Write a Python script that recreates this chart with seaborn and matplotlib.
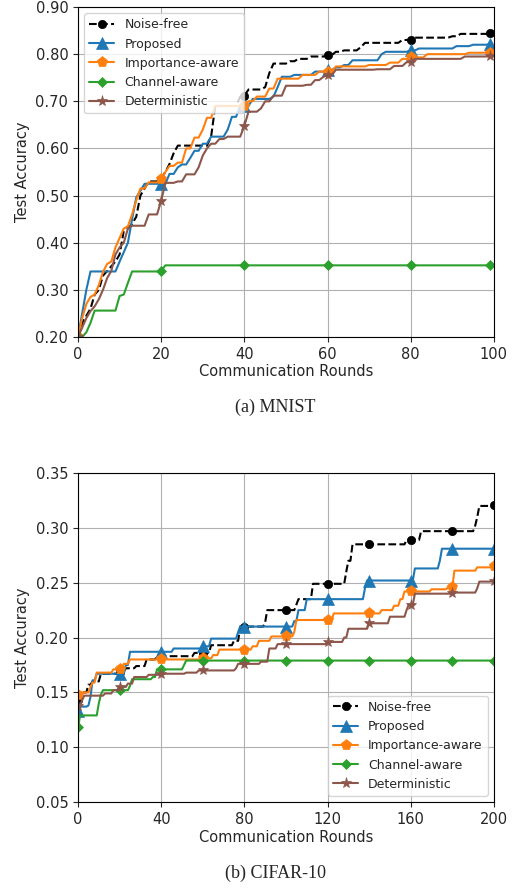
import numpy as np
import pandas as pd
import matplotlib
matplotlib.use('Agg')
import matplotlib.pyplot as plt
import seaborn as sns

# running best test accuracy, stored as (round, accuracy) change points
labels = ['Noise-free', 'Proposed', 'Importance-aware', 'Channel-aware', 'Deterministic']

mnist_noise_free = [(0, 0.20), (1, 0.23), (2, 0.245), (3, 0.26), (4, 0.29), (5, 0.30), (6, 0.33),
                    (7, 0.34), (8, 0.35), (9, 0.36), (10, 0.375), (11, 0.425), (12, 0.43), (13, 0.44),
                    (14, 0.455), (15, 0.50), (16, 0.515), (17, 0.53), (20, 0.536), (21, 0.55),
                    (22, 0.567), (23, 0.59), (24, 0.606), (32, 0.625), (33, 0.69), (39, 0.71),
                    (40, 0.712), (41, 0.725), (45, 0.73), (46, 0.76), (47, 0.78), (51, 0.785),
                    (53, 0.79), (56, 0.795), (60, 0.798), (62, 0.805), (64, 0.808), (68, 0.815),
                    (69, 0.824), (78, 0.83), (80, 0.831), (81, 0.835), (90, 0.838), (92, 0.843),
                    (99, 0.844)]
mnist_proposed = [(0, 0.20), (1, 0.25), (2, 0.30), (3, 0.339), (10, 0.36), (11, 0.38), (12, 0.40),
                  (13, 0.45), (14, 0.496), (15, 0.51), (16, 0.525), (22, 0.546), (24, 0.56),
                  (25, 0.566), (27, 0.58), (28, 0.595), (30, 0.61), (32, 0.625), (36, 0.64),
                  (37, 0.667), (39, 0.69), (42, 0.705), (47, 0.71), (48, 0.73), (49, 0.752),
                  (52, 0.756), (57, 0.763), (60, 0.766), (62, 0.772), (64, 0.777), (66, 0.787),
                  (73, 0.80), (74, 0.805), (80, 0.808), (82, 0.812), (91, 0.817), (95, 0.82),
                  (99, 0.821)]
mnist_importance = [(0, 0.20), (1, 0.24), (2, 0.27), (3, 0.285), (4, 0.29), (5, 0.31), (6, 0.338),
                    (7, 0.355), (8, 0.36), (9, 0.39), (10, 0.41), (11, 0.43), (12, 0.435),
                    (13, 0.46), (14, 0.49), (15, 0.515), (17, 0.528), (20, 0.536), (21, 0.55),
                    (22, 0.563), (24, 0.57), (26, 0.60), (28, 0.623), (30, 0.64), (31, 0.665),
                    (33, 0.69), (41, 0.70), (43, 0.71), (46, 0.727), (48, 0.748), (54, 0.756),
                    (58, 0.763), (62, 0.774), (70, 0.777), (75, 0.782), (78, 0.79), (80, 0.793),
                    (84, 0.80), (94, 0.803), (99, 0.803)]
mnist_channel = [(0, 0.20), (2, 0.21), (3, 0.23), (4, 0.256), (10, 0.287), (11, 0.29), (12, 0.315),
                 (13, 0.339), (20, 0.34), (21, 0.352), (99, 0.352)]
mnist_deterministic = [(0, 0.20), (1, 0.22), (2, 0.24), (3, 0.255), (4, 0.265), (5, 0.28), (6, 0.30),
                       (7, 0.325), (8, 0.34), (9, 0.375), (10, 0.39), (11, 0.40), (12, 0.43),
                       (13, 0.436), (17, 0.46), (20, 0.489), (21, 0.527), (24, 0.53), (26, 0.545),
                       (29, 0.56), (30, 0.585), (31, 0.60), (32, 0.61), (34, 0.62), (36, 0.625),
                       (40, 0.648), (41, 0.678), (44, 0.685), (45, 0.70), (47, 0.712), (50, 0.733),
                       (55, 0.735), (57, 0.745), (59, 0.752), (60, 0.755), (62, 0.767), (72, 0.768),
                       (76, 0.775), (79, 0.783), (81, 0.79), (93, 0.795), (99, 0.797)]

cifar_noise_free = [(0, 0.143), (2, 0.15), (5, 0.157), (7, 0.16), (11, 0.167), (20, 0.169),
                    (23, 0.172), (28, 0.174), (33, 0.18), (38, 0.183), (56, 0.186), (64, 0.193),
                    (75, 0.197), (78, 0.21), (90, 0.214), (91, 0.225), (105, 0.23), (106, 0.235),
                    (113, 0.249), (129, 0.26), (130, 0.27), (132, 0.285), (158, 0.289),
                    (165, 0.297), (191, 0.302), (192, 0.31), (193, 0.32), (200, 0.321)]
cifar_proposed = [(0, 0.133), (1, 0.137), (5, 0.138), (6, 0.146), (7, 0.161), (9, 0.167),
                  (23, 0.175), (25, 0.187), (46, 0.19), (60, 0.192), (64, 0.199), (77, 0.205),
                  (78, 0.21), (104, 0.215), (106, 0.225), (110, 0.235), (138, 0.245),
                  (139, 0.252), (162, 0.263), (174, 0.27), (175, 0.281), (200, 0.281)]
cifar_importance = [(0, 0.148), (1, 0.15), (6, 0.155), (7, 0.159), (9, 0.168), (17, 0.171),
                    (22, 0.176), (25, 0.18), (60, 0.181), (65, 0.184), (68, 0.189), (84, 0.192),
                    (87, 0.197), (93, 0.201), (104, 0.205), (105, 0.216), (123, 0.222),
                    (146, 0.225), (152, 0.229), (155, 0.235), (157, 0.242), (170, 0.244),
                    (178, 0.246), (181, 0.261), (192, 0.264), (200, 0.265)]
cifar_channel = [(0, 0.118), (1, 0.129), (10, 0.14), (11, 0.148), (12, 0.152), (25, 0.156),
                 (26, 0.162), (36, 0.164), (38, 0.171), (51, 0.175), (52, 0.179), (200, 0.179)]
cifar_deterministic = [(0, 0.138), (2, 0.143), (3, 0.147), (13, 0.149), (17, 0.152), (20, 0.155),
                       (24, 0.158), (27, 0.164), (34, 0.166), (40, 0.167), (52, 0.168), (58, 0.17),
                       (76, 0.172), (77, 0.176), (88, 0.178), (92, 0.19), (96, 0.194), (120, 0.196),
                       (128, 0.2), (130, 0.208), (140, 0.213), (150, 0.219), (158, 0.225),
                       (159, 0.23), (162, 0.24), (180, 0.241), (192, 0.245), (193, 0.251),
                       (200, 0.252)]

mnist_yticks = [0.20, 0.30, 0.40, 0.50, 0.60, 0.70, 0.80, 0.90]
cifar_yticks = [0.05, 0.10, 0.15, 0.20, 0.25, 0.30, 0.35]

styles = [
    dict(color='black', linestyle='--', marker='o', markersize=6),
    dict(color='#1f77b4', linestyle='-', marker='^', markersize=8),
    dict(color='#ff7f0e', linestyle='-', marker='p', markersize=8),
    dict(color='#2ca02c', linestyle='-', marker='D', markersize=5),
    dict(color='#8c564b', linestyle='-', marker='*', markersize=8),
]


def expand(knots, n):
    """Hold each accuracy value from its round until the next change."""
    vals = np.empty(n)
    for r, a in knots:
        vals[r:] = a
    return vals


def draw(ax, series, n, markevery):
    rounds = np.arange(n)
    for lab, knots, st in zip(labels, series, styles):
        df = pd.DataFrame({'round': rounds, 'acc': expand(knots, n)})
        sns.lineplot(data=df, x='round', y='acc', ax=ax, label=lab, linewidth=1.5,
                     markevery=markevery, markeredgewidth=0.5,
                     markeredgecolor=st['color'], **st)


sns.set_style('ticks')
plt.rcParams['font.family'] = ['DejaVu Sans']
plt.rcParams['font.size'] = 10.5

fig = plt.figure(figsize=(5.16, 8.88), dpi=100)
ax1 = fig.add_axes([0.1512, 0.6205, 0.806, 0.3716])
ax2 = fig.add_axes([0.1512, 0.0968, 0.806, 0.3705])

draw(ax1, [mnist_noise_free, mnist_proposed, mnist_importance, mnist_channel, mnist_deterministic],
     100, [0, 20, 40, 60, 80, 99])
ax1.set_xlim(0, 100)
ax1.set_ylim(0.20, 0.90)
ax1.set_xticks([0, 20, 40, 60, 80, 100])
ax1.set_yticks(mnist_yticks)
ax1.set_yticklabels([f'{v:.2f}' for v in mnist_yticks])
ax1.legend(loc='upper left', fontsize=9, framealpha=0.8, edgecolor='#cccccc')

draw(ax2, [cifar_noise_free, cifar_proposed, cifar_importance, cifar_channel, cifar_deterministic],
     201, 20)
ax2.set_xlim(0, 200)
ax2.set_ylim(0.05, 0.35)
ax2.set_xticks([0, 40, 80, 120, 160, 200])
ax2.set_yticks(cifar_yticks)
ax2.set_yticklabels([f'{v:.2f}' for v in cifar_yticks])
ax2.legend(loc='lower right', fontsize=9, framealpha=0.8, edgecolor='#cccccc')

for ax in (ax1, ax2):
    ax.grid(True, color='#b0b0b0', linewidth=0.8)
    ax.set_xlabel('Communication Rounds', labelpad=2)
    ax.set_ylabel('Test Accuracy')
    for sp in ax.spines.values():
        sp.set_visible(True)
        sp.set_color('black')

fig.text(0.533, 0.5417, '(a) MNIST', ha='center', va='center',
         family='Liberation Serif', fontsize=13)
fig.text(0.533, 0.0169, '(b) CIFAR-10', ha='center', va='center',
         family='Liberation Serif', fontsize=13)

fig.savefig('out.png', dpi=100)
plt.close(fig)
